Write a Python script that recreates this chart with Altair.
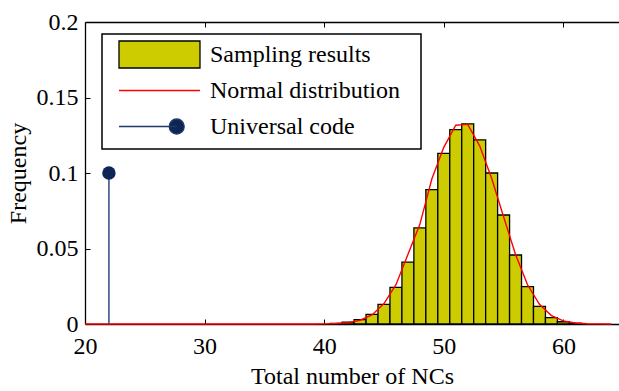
import altair as alt
import pandas as pd

# Histogram (bin centres, relative frequency)
bin_centers = [41, 42, 43, 44, 45, 46, 47, 48, 49, 50, 51, 52, 53, 54, 55, 56, 57, 58, 59, 60, 61]
bin_freq = [0.0004, 0.0013, 0.0029, 0.0064, 0.0130, 0.0243, 0.0410, 0.0636, 0.0890, 0.1130,
            0.1287, 0.1325, 0.1219, 0.1000, 0.0722, 0.0457, 0.0247, 0.0117, 0.0042, 0.0015, 0.0005]

# Fitted normal curve, read at integer points
curve_x = [20, 21, 22, 23, 24, 25, 26, 27, 28, 29, 30, 31, 32, 33, 34, 35, 36, 37, 38, 39,
           40, 41, 42, 43, 44, 45, 46, 47, 48, 49, 50, 51, 52, 53, 54, 55, 56, 57, 58, 59,
           60, 61, 62, 63, 64]
curve_y = [0, 0, 0, 0, 0, 0, 0, 0, 0, 0, 0, 0, 0, 0, 0, 0, 0, 0, 0, 0,
           0.0001, 0.0003, 0.0009, 0.0025, 0.0060, 0.0135, 0.0260, 0.0460, 0.0660, 0.0960,
           0.1170, 0.1316, 0.1322, 0.1180, 0.0965, 0.0710, 0.0460, 0.0260, 0.0130, 0.0056,
           0.0021, 0.0007, 0.0002, 0.0001, 0.0]

# Universal code
universal_x = [22]
universal_y = [0.1]

x_ticks = [20, 30, 40, 50, 60]
y_ticks = [0, 0.05, 0.1, 0.15, 0.2]

series = ["Sampling results", "Normal distribution", "Universal code"]
series_fill = ["#cccc00", "transparent", "#0e2655"]
series_stroke = ["#000000", "#ff0000", "#1f3a6b"]
series_shape = [
    "M21.45,0 M-0.26,-1 L5.74,-1 L5.74,1 L-0.26,1 Z",
    "M21.45,0 M-0.26,-1 M-0.26,1 M-0.26,0 L5.74,0",
    "M21.45,0 M-0.26,-1 M-0.26,1 M-0.26,0 L4.014,0 "
    "M3.458,0 A0.556,0.556 0 1,0 4.570,0 A0.556,0.556 0 1,0 3.458,0 Z",
]

FONT = "Liberation Serif"
FS = 24

hist_df = pd.DataFrame({"center": bin_centers, "freq": bin_freq})
curve_df = pd.DataFrame({"x": curve_x, "y": curve_y})
uni_df = pd.DataFrame({"x": universal_x, "y": universal_y})
leg_df = pd.DataFrame({"series": series})

xscale = alt.Scale(domain=[20, 64.65], nice=False, zero=False)
yscale = alt.Scale(domain=[0, 0.2], nice=False, zero=True)

x_axis = alt.Axis(orient="bottom", values=x_ticks, format="d", labelFlush=False,
                  labelFont=FONT, labelFontSize=FS, labelColor="black", labelPadding=10,
                  ticks=False, domainColor="black", domainWidth=1.3,
                  grid=True, gridColor="black", gridWidth=1, gridOpacity=1,
                  gridDash=[5, 292, 5, 3000],
                  title="Total number of NCs", titleFont=FONT, titleFontSize=FS,
                  titleFontWeight="normal", titleColor="black", titlePadding=6)
y_axis = alt.Axis(orient="left", values=y_ticks, format="~g", labelFlush=False,
                  labelFont=FONT, labelFontSize=FS, labelColor="black", labelPadding=7,
                  ticks=False, domainColor="black", domainWidth=1.3,
                  grid=True, gridColor="black", gridOpacity=1,
                  gridWidth={"condition": {"test": "datum.value >= 0.199", "value": 1.3}, "value": 1},
                  gridDash={"condition": {"test": "datum.value >= 0.199", "value": [1, 0]},
                            "value": [5, 3000]},
                  title="Frequency", titleFont=FONT, titleFontSize=FS,
                  titleFontWeight="normal", titleColor="black", titlePadding=6)

bars = alt.Chart(hist_df).transform_calculate(
    x0="datum.center - 0.5", x1="datum.center + 0.5", base="0"
).mark_bar(color="#cccc00", stroke="black", strokeWidth=1.3).encode(
    x=alt.X("x0:Q", scale=xscale, axis=x_axis),
    x2="x1:Q",
    y=alt.Y("freq:Q", scale=yscale, axis=y_axis),
    y2="base:Q",
)

curve = alt.Chart(curve_df).mark_line(color="#ff0000", strokeWidth=1.4).encode(
    x=alt.X("x:Q", scale=xscale, axis=x_axis),
    y=alt.Y("y:Q", scale=yscale, axis=y_axis),
)

stem = alt.Chart(uni_df).transform_calculate(base="0").mark_rule(
    color="#3a5688", strokeWidth=1.6
).encode(
    x=alt.X("x:Q", scale=xscale, axis=x_axis),
    y=alt.Y("base:Q", scale=yscale, axis=y_axis),
    y2="y:Q",
)
dot = alt.Chart(uni_df).mark_circle(color="#0e2655", size=180, opacity=1).encode(
    x=alt.X("x:Q", scale=xscale, axis=x_axis),
    y=alt.Y("y:Q", scale=yscale, axis=y_axis),
)

leg = alt.Legend(orient="none", legendX=17, legendY=12, title=None,
                 symbolSize=729, symbolStrokeWidth=1.3, symbolOpacity=1,
                 labelFont=FONT, labelFontSize=FS, labelColor="black",
                 labelOffset=73, labelLimit=500, rowPadding=3, padding=6,
                 strokeColor="black", fillColor="white")

legend_layer = alt.Chart(leg_df).transform_filter("false").mark_point(filled=True, opacity=1).encode(
    fill=alt.Fill("series:N", scale=alt.Scale(domain=series, range=series_fill), legend=leg),
    stroke=alt.Stroke("series:N", scale=alt.Scale(domain=series, range=series_stroke), legend=leg),
    shape=alt.Shape("series:N", scale=alt.Scale(domain=series, range=series_shape), legend=leg),
)

chart = alt.layer(bars, curve, stem, dot, legend_layer).properties(
    width=534, height=302,
    autosize=alt.AutoSizeParams(type="none"),
    padding={"left": 85, "top": 22, "right": 0, "bottom": 67},
).configure_view(stroke=None).configure_legend(strokeWidth=1.5)

chart.save("out.html", embed_options={"renderer": "svg", "actions": False})
